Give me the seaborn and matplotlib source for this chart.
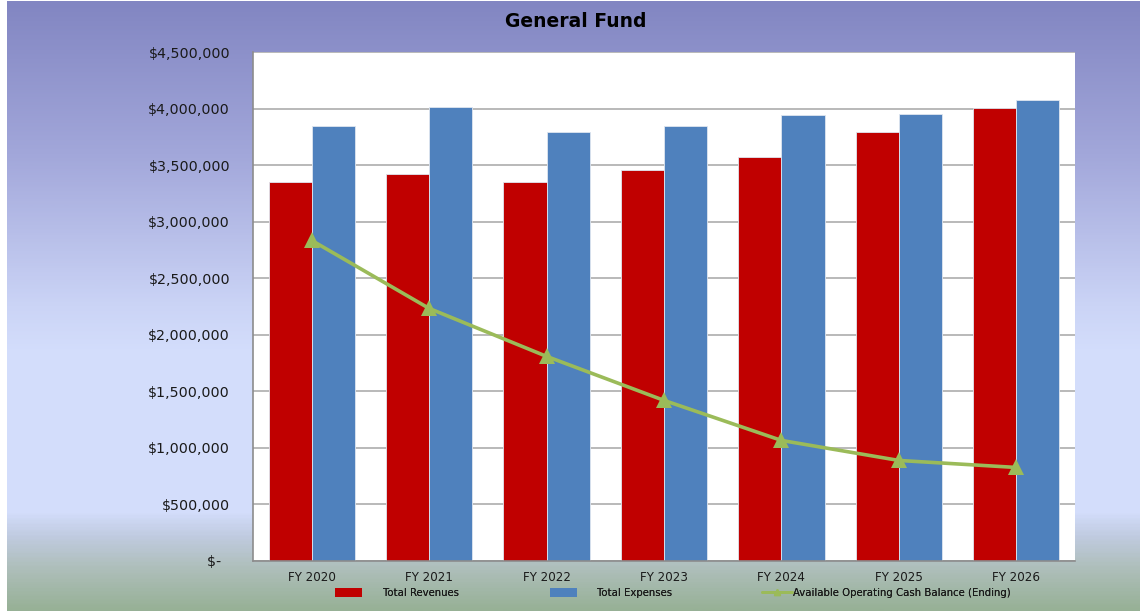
import numpy as np
import pandas as pd
import matplotlib
matplotlib.use("Agg")
import matplotlib.pyplot as plt
from matplotlib.colors import LinearSegmentedColormap
from matplotlib.patches import Patch
from matplotlib.lines import Line2D
from matplotlib.ticker import FuncFormatter, MultipleLocator
import seaborn as sns

# ---- data ----
years = ["FY 2020", "FY 2021", "FY 2022", "FY 2023", "FY 2024", "FY 2025", "FY 2026"]
total_revenues = [3355000, 3417000, 3355000, 3461000, 3576000, 3789000, 4003000]
total_expenses = [3850000, 4018000, 3789000, 3850000, 3939000, 3956000, 4078000]
cash_balance = [2834000, 2233000, 1809000, 1420000, 1066000, 889000, 827000]

series_names = ["Total Revenues", "Total Expenses"]
line_name = "Available Operating Cash Balance (Ending)"

RED = "#c00000"
BLUE = "#4f81bd"
GREEN = "#9bbb59"

sns.set_theme(style="white")
plt.rcParams["font.family"] = ["DejaVu Sans"]

df = pd.DataFrame({
    "year": years * 2,
    "value": total_revenues + total_expenses,
    "series": [series_names[0]] * len(years) + [series_names[1]] * len(years),
})

fig = plt.figure(figsize=(11.4, 6.11), dpi=100)

# vertical gradient backdrop
bg = fig.add_axes([0.006, 0, 0.994, 0.998], zorder=-5)
cmap = LinearSegmentedColormap.from_list(
    "backdrop",
    [(0.0, "#8286c2"), (0.25, "#a2a7da"), (0.5, "#cbd4f6"), (0.58, "#d4defc"),
     (0.84, "#d3ddfb"), (0.88, "#c0cbe0"), (0.93, "#afbfbc"), (1.0, "#97b196")],
)
grad = np.linspace(0, 1, 400).reshape(-1, 1)
bg.imshow(grad, aspect="auto", cmap=cmap, extent=[0, 1, 0, 1])
bg.set_axis_off()

ax = fig.add_axes([253 / 1140, 50 / 611, 822 / 1140, 509 / 611])
ax.set_facecolor("white")

sns.barplot(data=df, x="year", y="value", hue="series",
            palette=[RED, BLUE], width=0.735, gap=0, saturation=1,
            edgecolor="#dfe6f0", linewidth=0.6, ax=ax, legend=False, zorder=2)

sns.pointplot(x=years, y=cash_balance, color=GREEN, markers="^",
              markersize=11.5, markeredgewidth=0, linewidth=2.6, ax=ax, zorder=4)

ax.set_ylim(0, 4500000)
ax.set_xlim(-0.5, len(years) - 0.5)
ax.yaxis.set_major_locator(MultipleLocator(500000))


def money(v, _):
    if v == 0:
        return "$-  "
    return f"${v:,.0f}"


ax.yaxis.set_major_formatter(FuncFormatter(money))
ax.grid(axis="y", color="#a6a6a6", linewidth=1.1, zorder=0)
ax.set_axisbelow(True)
ax.set_xlabel("")
ax.set_ylabel("")

for side in ["top", "right"]:
    ax.spines[side].set_visible(False)
for side in ["left", "bottom"]:
    ax.spines[side].set_color("#8c8c8c")
    ax.spines[side].set_linewidth(1.2)

ax.tick_params(axis="y", labelsize=10.3, pad=16.5, length=0, colors="#1a1a1a")
ax.tick_params(axis="x", labelsize=8.6, pad=7, length=0, colors="#1a1a1a")

fig.text(0.505, 0.965, "General Fund", ha="center", va="center",
         fontsize=13.5, fontweight="bold", color="black")

# legend row: one entry per legend so each keeps its own spacing
legend_kw = dict(loc="center left", frameon=False, fontsize=7.3,
                 borderpad=0, borderaxespad=0, labelcolor="#1a1a1a")
entries = [
    (Patch(facecolor=RED, edgecolor="none"), series_names[0], 335, 2.7, 2.0),
    (Patch(facecolor=BLUE, edgecolor="none"), series_names[1], 550, 2.7, 1.9),
    (Line2D([0], [0], color=GREEN, linewidth=2, marker="^", markersize=4.5),
     line_name, 762, 3.0, 0.1),
]
for handle, label, x_px, hlen, hpad in entries:
    leg = fig.legend([handle], [label], bbox_to_anchor=(x_px / 1140, 18 / 611),
                     handlelength=hlen, handleheight=0.9, handletextpad=hpad,
                     **legend_kw)
    fig.add_artist(leg)

fig.savefig("out.png", dpi=100)
